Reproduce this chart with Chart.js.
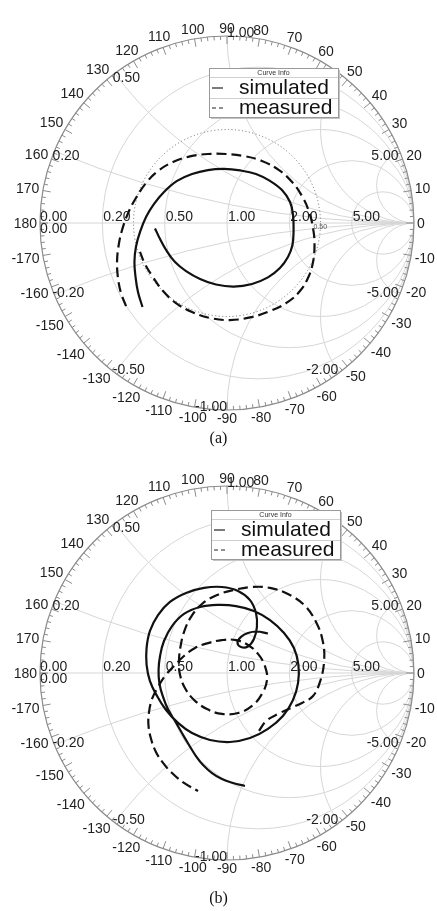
<!DOCTYPE html>
<html>
<head>
<meta charset="utf-8">
<script src="https://cdn.jsdelivr.net/npm/chart.js@4.4.0/dist/chart.umd.min.js"></script>
<style>
html,body{margin:0;padding:0;background:#fff;}
#wrap{position:relative;width:437px;height:911px;overflow:hidden;background:#fff;}
canvas{position:absolute;left:0;}
.cap{position:absolute;left:0;width:437px;text-align:center;font-family:"Liberation Serif","Times New Roman",serif;font-size:16px;line-height:20px;color:#111;}
</style>
</head>
<body>
<div id="wrap">
<canvas id="chartA" width="437" height="450" style="top:0px"></canvas>
<canvas id="chartB" width="437" height="461" style="top:450px"></canvas>
<div class="cap" style="top:428px">(a)</div>
<div class="cap" style="top:888px">(b)</div>
</div>
<script>
// ---------------- data (reflection coefficient, real / imaginary parts) ----------------
const seriesNames = ['simulated', 'measured'];
const legendTitle = 'Curve Info';
const resistanceTicks = [0, 0.2, 0.5, 1, 2, 5];
const reactanceTicks = [0.2, 0.5, 1, 2, 5];
const angleTicks = [0,10,20,30,40,50,60,70,80,90,100,110,120,130,140,150,160,170,180,
  -170,-160,-150,-140,-130,-120,-110,-100,-90,-80,-70,-60,-50,-40,-30,-20,-10];
const vswrCircleA = 0.5;

// (a) simulated
const simA_re = [-0.452,-0.476,-0.489,-0.495,-0.487,-0.465,-0.433,-0.390,-0.337,-0.267,-0.187,-0.102,-0.016,0.070,0.155,0.230,0.294,0.337,0.353,0.356,0.350,0.326,0.283,0.219,0.134,0.037,-0.059,-0.144,-0.219,-0.278,-0.326,-0.358,-0.385];
const simA_im = [-0.449,-0.369,-0.289,-0.209,-0.128,-0.048,0.032,0.102,0.166,0.225,0.262,0.283,0.289,0.281,0.262,0.225,0.176,0.112,0.043,-0.037,-0.118,-0.182,-0.241,-0.291,-0.326,-0.340,-0.329,-0.299,-0.257,-0.209,-0.144,-0.086,-0.029];
// (a) measured
const measA_re = [-0.540,-0.567,-0.583,-0.588,-0.580,-0.561,-0.529,-0.487,-0.433,-0.369,-0.289,-0.198,-0.102,-0.005,0.091,0.187,0.278,0.348,0.401,0.439,0.460,0.468,0.460,0.433,0.390,0.326,0.230,0.123,0.016,-0.091,-0.187,-0.273,-0.342,-0.396,-0.439,-0.473];
const measA_im = [-0.444,-0.374,-0.294,-0.209,-0.123,-0.037,0.053,0.134,0.214,0.278,0.326,0.356,0.369,0.369,0.358,0.332,0.283,0.219,0.144,0.059,-0.027,-0.112,-0.209,-0.294,-0.364,-0.422,-0.471,-0.505,-0.519,-0.508,-0.476,-0.428,-0.364,-0.289,-0.219,-0.134];
// (b) simulated
const simB_re = [0.096,0.032,-0.027,-0.080,-0.128,-0.166,-0.203,-0.241,-0.278,-0.316,-0.342,-0.361,-0.366,-0.358,-0.337,-0.294,-0.230,-0.144,-0.048,0.048,0.144,0.230,0.305,0.358,0.382,0.380,0.353,0.299,0.219,0.123,0.016,-0.091,-0.187,-0.262,-0.326,-0.374,-0.412,-0.430,-0.430,-0.412,-0.369,-0.305,-0.219,-0.123,-0.027,0.059,0.123,0.155,0.160,0.144,0.112,0.075,0.056,0.075,0.112,0.160,0.219];
const simB_im = [-0.604,-0.588,-0.567,-0.535,-0.492,-0.444,-0.385,-0.321,-0.257,-0.193,-0.128,-0.059,0.016,0.091,0.171,0.251,0.316,0.353,0.364,0.358,0.332,0.283,0.214,0.134,0.043,-0.053,-0.144,-0.230,-0.299,-0.348,-0.369,-0.358,-0.321,-0.267,-0.198,-0.123,-0.043,0.043,0.134,0.225,0.310,0.380,0.428,0.455,0.460,0.439,0.390,0.321,0.246,0.182,0.142,0.139,0.163,0.193,0.214,0.222,0.211];
// (b) measured
const measB_re = [0.171,0.209,0.273,0.342,0.401,0.460,0.497,0.519,0.513,0.476,0.412,0.326,0.230,0.134,0.037,-0.053,-0.134,-0.193,-0.230,-0.249,-0.257,-0.251,-0.225,-0.176,-0.107,-0.027,0.059,0.134,0.187,0.214,0.203,0.166,0.112,0.048,-0.027,-0.102,-0.171,-0.230,-0.283,-0.332,-0.369,-0.401,-0.417,-0.420,-0.406,-0.380,-0.342,-0.294,-0.230,-0.155];
const measB_im = [-0.310,-0.257,-0.219,-0.187,-0.160,-0.123,-0.048,0.059,0.166,0.273,0.364,0.422,0.455,0.460,0.444,0.417,0.369,0.299,0.219,0.139,0.059,-0.011,-0.080,-0.144,-0.193,-0.219,-0.214,-0.176,-0.112,-0.037,0.037,0.102,0.150,0.176,0.176,0.160,0.134,0.091,0.037,-0.016,-0.075,-0.139,-0.209,-0.278,-0.353,-0.422,-0.481,-0.535,-0.588,-0.631];

// ---------------- layout / style ----------------
const W = 437, CX = 227, CY = 223, RAD = 187;
const FONT = '"Liberation Sans", Arial, Helvetica, sans-serif';
const TXT = '#1e1e1e';

const smithPlugin = {
  id: 'smith',
  beforeDatasetsDraw(chart, args, o) {
    const ctx = chart.ctx, xs = chart.scales.x, ys = chart.scales.y;
    const px = v => xs.getPixelForValue(v), py = v => ys.getPixelForValue(v);
    const cx = px(0), cy = py(0), R = px(1) - cx;
    ctx.save();
    ctx.beginPath(); ctx.arc(cx, cy, R, 0, Math.PI * 2); ctx.clip();
    ctx.strokeStyle = '#d6d6d6'; ctx.lineWidth = 1;
    resistanceTicks.forEach(r => {
      if (r <= 0) return;
      ctx.beginPath(); ctx.arc(px(r / (1 + r)), cy, R / (1 + r), 0, Math.PI * 2); ctx.stroke();
    });
    reactanceTicks.forEach(x => [1, -1].forEach(s => {
      ctx.beginPath(); ctx.arc(px(1), py(s / x), R / x, 0, Math.PI * 2); ctx.stroke();
    }));
    ctx.beginPath(); ctx.moveTo(cx - R, cy); ctx.lineTo(cx + R, cy); ctx.stroke();
    if (o.vswr) {
      ctx.strokeStyle = '#6a6a6a'; ctx.setLineDash([1, 2.5]);
      ctx.beginPath(); ctx.arc(cx, cy, px(o.vswr) - cx, 0, Math.PI * 2); ctx.stroke();
      ctx.setLineDash([]);
      ctx.fillStyle = '#555'; ctx.font = '7px ' + FONT; ctx.textAlign = 'left'; ctx.textBaseline = 'middle';
      ctx.fillText(o.vswr.toFixed(2), px(o.vswr) - 7, cy + 4);
    }
    ctx.restore();

    // outer circle + ticks
    ctx.save();
    ctx.strokeStyle = '#8c8c8c'; ctx.lineWidth = 1.2;
    ctx.beginPath(); ctx.arc(cx, cy, R, 0, Math.PI * 2); ctx.stroke();
    ctx.lineWidth = 1; ctx.beginPath();
    for (let a = 0; a < 360; a += 2) {
      const t = a * Math.PI / 180, L = (a % 10 === 0) ? 8 : 4;
      ctx.moveTo(cx + R * Math.cos(t), cy - R * Math.sin(t));
      ctx.lineTo(cx + (R - L) * Math.cos(t), cy - (R - L) * Math.sin(t));
    }
    ctx.stroke();

    // angle labels
    ctx.fillStyle = TXT; ctx.font = '14px ' + FONT; ctx.textAlign = 'center'; ctx.textBaseline = 'middle';
    angleTicks.forEach(a => {
      const t = a * Math.PI / 180, s = String(a), w = ctx.measureText(s).width;
      const d = R + 3 + (w / 2) * Math.abs(Math.cos(t)) + 5 * Math.abs(Math.sin(t));
      ctx.fillText(s, cx + d * Math.cos(t), cy - d * Math.sin(t) + 1);
    });

    // resistance labels on the real axis
    ctx.textAlign = 'left';
    resistanceTicks.forEach(r => {
      const g = (r - 1) / (r + 1);
      ctx.fillText(r.toFixed(2), px(g) + (r === 0 ? 0 : 1), cy - 5.5);
    });
    ctx.fillText((0).toFixed(2), px(-1), cy + 6.5);

    // reactance labels on the rim
    reactanceTicks.forEach(x => [1, -1].forEach(s => {
      const xv = s * x, re = (xv * xv - 1) / (xv * xv + 1), im = 2 * xv / (xv * xv + 1);
      const X = px(re), Y = py(im), txt = (s < 0 ? '-' : '') + x.toFixed(2);
      if (Math.abs(re) < 0.1) {
        ctx.textAlign = s > 0 ? 'left' : 'right';
        ctx.fillText(txt, X, Y - 3);
      } else if (re < 0) {
        ctx.textAlign = 'left';
        ctx.fillText(txt, X - 2, Y + (s > 0 ? 5 : -2));
      } else {
        ctx.textAlign = 'right';
        ctx.fillText(txt, X - 1, Y + (s > 0 ? 5 : -2));
      }
    }));
    ctx.restore();
  },
  afterDatasetsDraw(chart, args, o) {
    const ctx = chart.ctx, b = o.box;
    if (!b) return;
    const w = 129, h = 49;
    ctx.save();
    ctx.fillStyle = '#c4c4c4'; ctx.fillRect(b.x + 2, b.y + 2, w, h);
    ctx.fillStyle = '#fff'; ctx.fillRect(b.x, b.y, w, h);
    ctx.strokeStyle = '#9a9a9a'; ctx.lineWidth = 1;
    ctx.strokeRect(b.x + 0.5, b.y + 0.5, w, h);
    ctx.strokeStyle = '#cfcfcf';
    ctx.beginPath();
    ctx.moveTo(b.x + 1, b.y + 9.5); ctx.lineTo(b.x + w, b.y + 9.5);
    ctx.moveTo(b.x + 1, b.y + 30.5); ctx.lineTo(b.x + w, b.y + 30.5);
    ctx.stroke();
    ctx.fillStyle = '#333'; ctx.font = '7px ' + FONT; ctx.textAlign = 'center'; ctx.textBaseline = 'middle';
    ctx.fillText(legendTitle, b.x + w / 2, b.y + 5);
    ctx.strokeStyle = '#222'; ctx.lineWidth = 1.2;
    ctx.beginPath(); ctx.moveTo(b.x + 3, b.y + 20); ctx.lineTo(b.x + 14, b.y + 20); ctx.stroke();
    ctx.setLineDash([4, 3]);
    ctx.beginPath(); ctx.moveTo(b.x + 3, b.y + 40); ctx.lineTo(b.x + 15, b.y + 40); ctx.stroke();
    ctx.setLineDash([]);
    ctx.fillStyle = '#111'; ctx.font = '21px ' + FONT; ctx.textAlign = 'left';
    ctx.fillText(chart.data.datasets[0].label, b.x + 30, b.y + 20);
    ctx.fillText(chart.data.datasets[1].label, b.x + 30, b.y + 40);
    ctx.restore();
  }
};

function buildChart(id, H, sim, meas, opts) {
  const pts = (re, im) => re.map((v, i) => ({ x: v, y: im[i] }));
  return new Chart(document.getElementById(id), {
    type: 'scatter',
    data: {
      datasets: [
        { label: seriesNames[0], data: pts(sim[0], sim[1]), showLine: true, borderColor: '#111',
          borderWidth: 2.2, pointRadius: 0, tension: 0.4, fill: false },
        { label: seriesNames[1], data: pts(meas[0], meas[1]), showLine: true, borderColor: '#111',
          borderWidth: 2.2, borderDash: [10, 5], pointRadius: 0, tension: 0.4, fill: false }
      ]
    },
    options: {
      responsive: false, animation: false, devicePixelRatio: 1,
      layout: { padding: 0 },
      scales: {
        x: { type: 'linear', display: false, min: -CX / RAD, max: (W - CX) / RAD },
        y: { type: 'linear', display: false, min: -(H - CY) / RAD, max: CY / RAD }
      },
      plugins: { legend: { display: false }, tooltip: { enabled: false }, smith: opts }
    },
    plugins: [smithPlugin]
  });
}

buildChart('chartA', 450, [simA_re, simA_im], [measA_re, measA_im], { vswr: vswrCircleA, box: { x: 209, y: 68 } });
buildChart('chartB', 461, [simB_re, simB_im], [measB_re, measB_im], { vswr: 0, box: { x: 211, y: 60 } });
</script>
</body>
</html>
